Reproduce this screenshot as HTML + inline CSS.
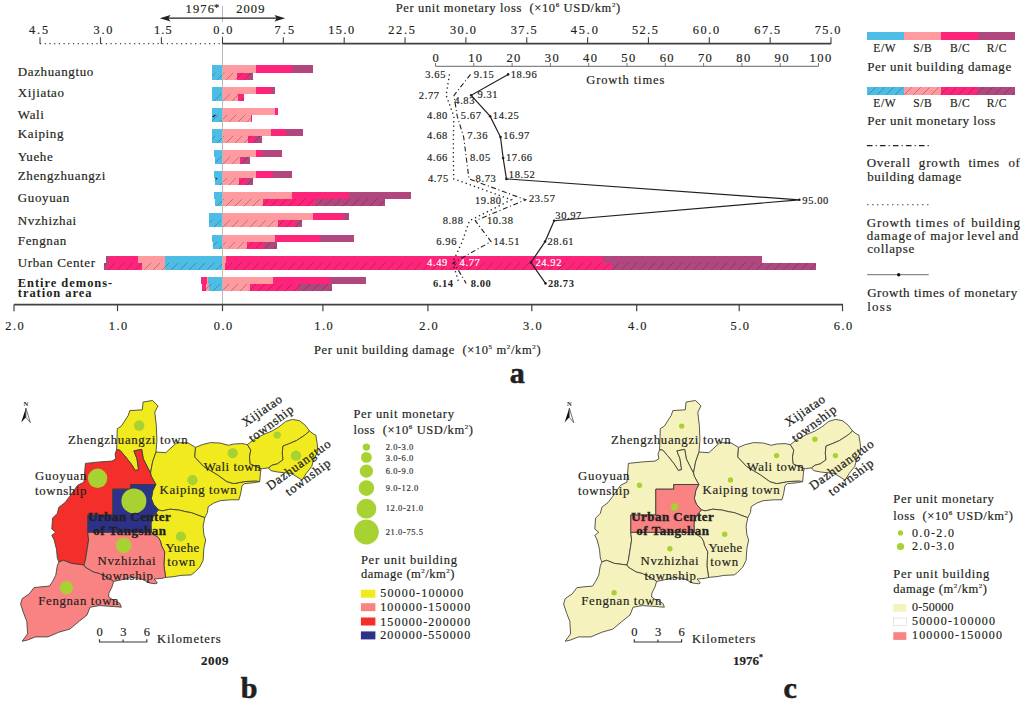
<!DOCTYPE html>
<html><head><meta charset="utf-8"><style>
html,body{margin:0;padding:0;background:#fff;}
svg{display:block;}
text{font-family:"Liberation Serif", serif;}
</style></head><body>
<svg width="1024" height="704" viewBox="0 0 1024 704">
<rect width="1024" height="704" fill="#fff"/>
<g fill="#231f20">
<polygon points="143.10,402.00 152.50,400.50 158.00,405.90 154.80,412.20 156.40,426.30 156.90,440.30 156.00,452.00 152.60,461.90 150.50,473.00 147.90,468.10 143.25,458.75 141.70,449.40 133.90,450.90 137.00,458.75 138.60,469.70 135.40,470.50 130.75,463.40 124.50,455.60 119.80,450.20 116.60,449.70 117.30,428.60 121.25,426.25 128.30,415.30 129.80,410.60 142.30,409.80" fill="#f1ea1e" stroke="#3b3b35" stroke-width="0.85" stroke-linejoin="round"/>
<polygon points="156.00,452.00 165.80,452.70 176.80,442.70 187.70,442.70 195.50,447.40 194.80,457.00 203.70,466.50 217.30,474.70 226.90,481.60 233.75,483.60 244.70,481.60 255.60,480.90 259.70,481.60 252.90,482.90 244.70,483.60 242.00,485.70 240.60,493.90 238.90,499.80 230.40,499.80 220.10,500.70 213.30,503.30 208.20,506.70 207.40,512.60 204.80,517.70 198.00,515.20 191.20,512.60 186.00,511.80 179.20,510.10 169.80,509.20 162.20,510.90 158.40,509.90 153.40,504.20 151.30,498.60 152.80,490.50 155.75,484.50 151.10,475.90 150.50,473.00 152.60,461.90" fill="#f1ea1e" stroke="#3b3b35" stroke-width="0.85" stroke-linejoin="round"/>
<polygon points="195.50,447.40 202.30,444.60 210.50,442.60 220.10,443.00 228.30,445.30 233.75,444.00 242.00,443.60 247.40,444.60 250.80,450.10 249.50,457.00 250.20,463.80 261.10,468.60 260.40,473.40 259.70,481.60 255.60,480.90 244.70,481.60 233.75,483.60 226.90,481.60 217.30,474.70 203.70,466.50 194.80,457.00" fill="#f1ea1e" stroke="#3b3b35" stroke-width="0.85" stroke-linejoin="round"/>
<polygon points="247.40,444.60 254.30,439.20 263.80,434.40 272.00,431.00 278.90,426.90 285.70,421.40 292.50,419.40 299.40,420.70 304.80,424.80 309.60,431.00 304.80,435.10 296.60,440.50 288.40,444.00 283.00,446.00 282.30,452.90 283.00,459.70 277.50,463.80 272.00,465.20 268.60,467.90 262.50,468.60 261.10,468.60 250.20,463.80 249.50,457.00 250.80,450.10" fill="#f1ea1e" stroke="#3b3b35" stroke-width="0.85" stroke-linejoin="round"/>
<polygon points="309.60,431.00 313.00,433.70 315.80,435.10 317.20,443.30 317.80,451.50 313.70,459.70 311.70,466.50 306.20,473.40 302.10,480.20 298.00,477.50 291.20,473.40 277.50,472.00 270.70,470.60 268.60,467.90 272.00,465.20 277.50,463.80 283.00,459.70 282.30,452.90 283.00,446.00 288.40,444.00 296.60,440.50 304.80,435.10" fill="#f1ea1e" stroke="#3b3b35" stroke-width="0.85" stroke-linejoin="round"/>
<polygon points="158.40,509.90 162.20,510.90 169.80,509.20 179.20,510.10 186.00,511.80 191.20,512.60 198.00,515.20 204.80,517.70 203.10,526.30 203.90,534.80 205.65,539.90 203.90,548.40 203.10,560.40 199.70,567.20 194.60,572.30 191.20,574.90 180.90,575.40 174.10,576.60 165.60,577.40 163.90,565.50 164.70,551.90 161.25,545.00 160.50,541.20 158.40,537.60 154.10,534.80 151.30,532.40 151.00,524.80 151.30,519.90 154.10,514.90" fill="#f1ea1e" stroke="#3b3b35" stroke-width="0.85" stroke-linejoin="round"/>
<polygon points="85.40,463.40 99.50,461.90 112.00,461.10 115.90,458.75 115.10,454.10 116.60,449.70 119.80,450.20 124.50,455.60 130.75,463.40 135.40,470.50 138.60,469.70 137.00,458.75 133.90,450.90 141.70,449.40 143.25,458.75 147.90,468.10 150.50,473.00 151.10,475.90 155.75,484.50 130.75,484.50 130.75,489.20 112.80,489.20 112.80,515.00 87.80,515.00 87.80,532.40 88.60,540.00 85.40,560.30 83.90,565.00 71.40,563.40 63.60,560.30 58.90,561.90 57.30,558.00 56.50,549.40 54.20,540.00 51.80,535.30 55.75,532.20 51.80,529.10 52.60,518.10 57.30,513.40 58.90,507.20 65.10,502.50 69.80,496.25 77.60,485.30 83.90,482.20" fill="#f42e2a" stroke="#3b3b35" stroke-width="0.85" stroke-linejoin="round"/>
<polygon points="130.75,484.50 155.75,484.50 152.80,490.50 151.30,498.60 153.40,504.20 158.40,509.90 154.10,514.90 151.30,519.90 151.00,524.80 151.30,532.40 87.80,532.40 87.80,515.00 112.80,515.00 112.80,489.20 130.75,489.20" fill="#2c3189" stroke="#3b3b35" stroke-width="0.85" stroke-linejoin="round"/>
<polygon points="87.80,532.40 151.30,532.40 154.10,534.80 158.40,537.60 160.50,541.20 161.25,545.00 164.70,551.90 163.90,565.50 165.60,577.40 162.00,578.30 154.20,579.00 157.30,583.00 155.75,583.75 149.50,583.00 144.80,580.60 140.10,578.30 130.75,577.50 121.40,579.80 113.60,581.40 108.90,578.30 99.50,573.60 93.25,572.00 85.40,567.30 83.90,565.00 85.40,560.30 88.60,540.00" fill="#f98282" stroke="#3b3b35" stroke-width="0.85" stroke-linejoin="round"/>
<polygon points="63.60,560.30 71.40,563.40 83.90,565.00 85.40,567.30 93.25,572.00 99.50,573.60 108.90,578.30 113.60,581.40 112.00,586.90 108.90,593.10 108.60,597.00 113.60,600.20 119.80,603.30 121.40,607.20 112.00,606.40 99.50,605.60 90.10,607.20 87.00,615.00 79.20,621.25 69.80,629.10 58.90,632.20 47.90,636.90 35.40,636.90 27.60,640.00 22.20,641.25 27.60,633.75 26.80,621.25 23.70,613.40 20.60,604.00 22.20,598.60 29.20,593.90 33.90,587.70 40.10,586.90 49.50,586.10 52.60,581.40 55.75,575.20 57.30,565.80 58.90,561.90" fill="#f98282" stroke="#3b3b35" stroke-width="0.85" stroke-linejoin="round"/>
<circle cx="139.2" cy="425.5" r="5.2" fill="#a7d232"/>
<circle cx="277.2" cy="435.1" r="3.7" fill="#a7d232"/>
<circle cx="296" cy="455.6" r="5.2" fill="#a7d232"/>
<circle cx="232.7" cy="453.1" r="5.2" fill="#a7d232"/>
<circle cx="192.5" cy="480.2" r="5.1" fill="#a7d232"/>
<circle cx="97.6" cy="478.3" r="9.7" fill="#a7d232"/>
<circle cx="133.9" cy="500.9" r="12.5" fill="#a7d232"/>
<circle cx="123.7" cy="545.5" r="7.8" fill="#a7d232"/>
<circle cx="180.9" cy="536.5" r="5.1" fill="#a7d232"/>
<circle cx="66.4" cy="587.7" r="6.6" fill="#a7d232"/>
<polygon points="686.10,402.00 695.50,400.50 701.00,405.90 697.80,412.20 699.40,426.30 699.90,440.30 699.00,452.00 695.60,461.90 693.50,473.00 690.90,468.10 686.25,458.75 684.70,449.40 676.90,450.90 680.00,458.75 681.60,469.70 678.40,470.50 673.75,463.40 667.50,455.60 662.80,450.20 659.60,449.70 660.30,428.60 664.25,426.25 671.30,415.30 672.80,410.60 685.30,409.80" fill="#f6f2bd" stroke="#3b3b35" stroke-width="0.85" stroke-linejoin="round"/>
<polygon points="699.00,452.00 708.80,452.70 719.80,442.70 730.70,442.70 738.50,447.40 737.80,457.00 746.70,466.50 760.30,474.70 769.90,481.60 776.75,483.60 787.70,481.60 798.60,480.90 802.70,481.60 795.90,482.90 787.70,483.60 785.00,485.70 783.60,493.90 781.90,499.80 773.40,499.80 763.10,500.70 756.30,503.30 751.20,506.70 750.40,512.60 747.80,517.70 741.00,515.20 734.20,512.60 729.00,511.80 722.20,510.10 712.80,509.20 705.20,510.90 701.40,509.90 696.40,504.20 694.30,498.60 695.80,490.50 698.75,484.50 694.10,475.90 693.50,473.00 695.60,461.90" fill="#f6f2bd" stroke="#3b3b35" stroke-width="0.85" stroke-linejoin="round"/>
<polygon points="738.50,447.40 745.30,444.60 753.50,442.60 763.10,443.00 771.30,445.30 776.75,444.00 785.00,443.60 790.40,444.60 793.80,450.10 792.50,457.00 793.20,463.80 804.10,468.60 803.40,473.40 802.70,481.60 798.60,480.90 787.70,481.60 776.75,483.60 769.90,481.60 760.30,474.70 746.70,466.50 737.80,457.00" fill="#f6f2bd" stroke="#3b3b35" stroke-width="0.85" stroke-linejoin="round"/>
<polygon points="790.40,444.60 797.30,439.20 806.80,434.40 815.00,431.00 821.90,426.90 828.70,421.40 835.50,419.40 842.40,420.70 847.80,424.80 852.60,431.00 847.80,435.10 839.60,440.50 831.40,444.00 826.00,446.00 825.30,452.90 826.00,459.70 820.50,463.80 815.00,465.20 811.60,467.90 805.50,468.60 804.10,468.60 793.20,463.80 792.50,457.00 793.80,450.10" fill="#f6f2bd" stroke="#3b3b35" stroke-width="0.85" stroke-linejoin="round"/>
<polygon points="852.60,431.00 856.00,433.70 858.80,435.10 860.20,443.30 860.80,451.50 856.70,459.70 854.70,466.50 849.20,473.40 845.10,480.20 841.00,477.50 834.20,473.40 820.50,472.00 813.70,470.60 811.60,467.90 815.00,465.20 820.50,463.80 826.00,459.70 825.30,452.90 826.00,446.00 831.40,444.00 839.60,440.50 847.80,435.10" fill="#f6f2bd" stroke="#3b3b35" stroke-width="0.85" stroke-linejoin="round"/>
<polygon points="701.40,509.90 705.20,510.90 712.80,509.20 722.20,510.10 729.00,511.80 734.20,512.60 741.00,515.20 747.80,517.70 746.10,526.30 746.90,534.80 748.65,539.90 746.90,548.40 746.10,560.40 742.70,567.20 737.60,572.30 734.20,574.90 723.90,575.40 717.10,576.60 708.60,577.40 706.90,565.50 707.70,551.90 704.25,545.00 703.50,541.20 701.40,537.60 697.10,534.80 694.30,532.40 694.00,524.80 694.30,519.90 697.10,514.90" fill="#f6f2bd" stroke="#3b3b35" stroke-width="0.85" stroke-linejoin="round"/>
<polygon points="628.40,463.40 642.50,461.90 655.00,461.10 658.90,458.75 658.10,454.10 659.60,449.70 662.80,450.20 667.50,455.60 673.75,463.40 678.40,470.50 681.60,469.70 680.00,458.75 676.90,450.90 684.70,449.40 686.25,458.75 690.90,468.10 693.50,473.00 694.10,475.90 698.75,484.50 673.75,484.50 673.75,489.20 655.80,489.20 655.80,515.00 630.80,515.00 630.80,532.40 631.60,540.00 628.40,560.30 626.90,565.00 614.40,563.40 606.60,560.30 601.90,561.90 600.30,558.00 599.50,549.40 597.20,540.00 594.80,535.30 598.75,532.20 594.80,529.10 595.60,518.10 600.30,513.40 601.90,507.20 608.10,502.50 612.80,496.25 620.60,485.30 626.90,482.20" fill="#f6f2bd" stroke="#3b3b35" stroke-width="0.85" stroke-linejoin="round"/>
<polygon points="673.75,484.50 698.75,484.50 695.80,490.50 694.30,498.60 696.40,504.20 701.40,509.90 697.10,514.90 694.30,519.90 694.00,524.80 694.30,532.40 630.80,532.40 630.80,515.00 655.80,515.00 655.80,489.20 673.75,489.20" fill="#f98282" stroke="#3b3b35" stroke-width="0.85" stroke-linejoin="round"/>
<polygon points="630.80,532.40 694.30,532.40 697.10,534.80 701.40,537.60 703.50,541.20 704.25,545.00 707.70,551.90 706.90,565.50 708.60,577.40 705.00,578.30 697.20,579.00 700.30,583.00 698.75,583.75 692.50,583.00 687.80,580.60 683.10,578.30 673.75,577.50 664.40,579.80 656.60,581.40 651.90,578.30 642.50,573.60 636.25,572.00 628.40,567.30 626.90,565.00 628.40,560.30 631.60,540.00" fill="#f6f2bd" stroke="#3b3b35" stroke-width="0.85" stroke-linejoin="round"/>
<polygon points="606.60,560.30 614.40,563.40 626.90,565.00 628.40,567.30 636.25,572.00 642.50,573.60 651.90,578.30 656.60,581.40 655.00,586.90 651.90,593.10 651.60,597.00 656.60,600.20 662.80,603.30 664.40,607.20 655.00,606.40 642.50,605.60 633.10,607.20 630.00,615.00 622.20,621.25 612.80,629.10 601.90,632.20 590.90,636.90 578.40,636.90 570.60,640.00 565.20,641.25 570.60,633.75 569.80,621.25 566.70,613.40 563.60,604.00 565.20,598.60 572.20,593.90 576.90,587.70 583.10,586.90 592.50,586.10 595.60,581.40 598.75,575.20 600.30,565.80 601.90,561.90" fill="#f6f2bd" stroke="#3b3b35" stroke-width="0.85" stroke-linejoin="round"/>
<circle cx="681.7" cy="426.1" r="2.7" fill="#a7d232"/>
<circle cx="814.9" cy="439.3" r="2.7" fill="#a7d232"/>
<circle cx="835.4" cy="455.6" r="2.7" fill="#a7d232"/>
<circle cx="776.6" cy="455.6" r="2.7" fill="#a7d232"/>
<circle cx="730.5" cy="479.9" r="2.7" fill="#a7d232"/>
<circle cx="639.5" cy="485.2" r="2.7" fill="#a7d232"/>
<circle cx="674.6" cy="507.0" r="3.7" fill="#a7d232"/>
<circle cx="669.9" cy="548.8" r="2.7" fill="#a7d232"/>
<circle cx="724.7" cy="534.2" r="2.7" fill="#a7d232"/>
<circle cx="614.1" cy="592.8" r="2.7" fill="#a7d232"/>
<path d="M25.90 408.1 L21.20 422.6 L25.90 417.3 Z" fill="#111"/>
<path d="M25.90 408.1 L30.40 422.6 L25.90 417.3 Z" fill="#fff" stroke="#333" stroke-width="0.7" stroke-linejoin="round"/>
<text x="25.90" y="406" font-size="6.5" font-weight="700" text-anchor="middle" fill="#222">N</text>
<path d="M569.30 408.1 L564.60 422.6 L569.30 417.3 Z" fill="#111"/>
<path d="M569.30 408.1 L573.80 422.6 L569.30 417.3 Z" fill="#fff" stroke="#333" stroke-width="0.7" stroke-linejoin="round"/>
<text x="569.30" y="406" font-size="6.5" font-weight="700" text-anchor="middle" fill="#222">N</text>
<line x1="222.5" y1="6" x2="222.5" y2="22" stroke="#b8b8b8" stroke-width="1"/>
<line x1="222.5" y1="36" x2="222.5" y2="311" stroke="#b8b8b8" stroke-width="1"/>
<line x1="222.5" y1="43.6" x2="831" y2="43.6" stroke="#454040" stroke-width="1.7"/>
<line x1="222.50" y1="37.2" x2="222.50" y2="44" stroke="#454040" stroke-width="1.1"/>
<line x1="283.35" y1="37.2" x2="283.35" y2="44" stroke="#454040" stroke-width="1.1"/>
<line x1="344.20" y1="37.2" x2="344.20" y2="44" stroke="#454040" stroke-width="1.1"/>
<line x1="405.05" y1="37.2" x2="405.05" y2="44" stroke="#454040" stroke-width="1.1"/>
<line x1="465.90" y1="37.2" x2="465.90" y2="44" stroke="#454040" stroke-width="1.1"/>
<line x1="526.75" y1="37.2" x2="526.75" y2="44" stroke="#454040" stroke-width="1.1"/>
<line x1="587.60" y1="37.2" x2="587.60" y2="44" stroke="#454040" stroke-width="1.1"/>
<line x1="648.45" y1="37.2" x2="648.45" y2="44" stroke="#454040" stroke-width="1.1"/>
<line x1="709.30" y1="37.2" x2="709.30" y2="44" stroke="#454040" stroke-width="1.1"/>
<line x1="770.15" y1="37.2" x2="770.15" y2="44" stroke="#454040" stroke-width="1.1"/>
<line x1="831.00" y1="37.2" x2="831.00" y2="44" stroke="#454040" stroke-width="1.1"/>
<line x1="40" y1="43.6" x2="221" y2="43.6" stroke="#454040" stroke-width="1.2" stroke-dasharray="1.2 3.5"/>
<line x1="40.00" y1="37.2" x2="40.00" y2="44" stroke="#454040" stroke-width="1.1"/>
<line x1="100.50" y1="37.2" x2="100.50" y2="44" stroke="#454040" stroke-width="1.1"/>
<line x1="161.40" y1="37.2" x2="161.40" y2="44" stroke="#454040" stroke-width="1.1"/>
<text x="29.10" y="33.80" font-size="12.3" textLength="19.10" lengthAdjust="spacing" stroke="#231f20" stroke-width="0.18">4.5</text>
<text x="93.60" y="33.80" font-size="12.3" textLength="18.70" lengthAdjust="spacing" stroke="#231f20" stroke-width="0.18">3.0</text>
<text x="154.10" y="33.80" font-size="12.3" textLength="17.55" lengthAdjust="spacing" stroke="#231f20" stroke-width="0.18">1.5</text>
<text x="213.15" y="33.80" font-size="12.3" textLength="19.25" lengthAdjust="spacing" stroke="#231f20" stroke-width="0.18">0.0</text>
<text x="274.40" y="33.80" font-size="12.3" textLength="19.75" lengthAdjust="spacing" stroke="#231f20" stroke-width="0.18">7.5</text>
<text x="328.15" y="33.80" font-size="12.3" textLength="26.00" lengthAdjust="spacing" stroke="#231f20" stroke-width="0.18">15.0</text>
<text x="388.15" y="33.80" font-size="12.3" textLength="26.75" lengthAdjust="spacing" stroke="#231f20" stroke-width="0.18">22.5</text>
<text x="449.90" y="33.80" font-size="12.3" textLength="26.00" lengthAdjust="spacing" stroke="#231f20" stroke-width="0.18">30.0</text>
<text x="510.65" y="33.80" font-size="12.3" textLength="26.00" lengthAdjust="spacing" stroke="#231f20" stroke-width="0.18">37.5</text>
<text x="570.65" y="33.80" font-size="12.3" textLength="27.25" lengthAdjust="spacing" stroke="#231f20" stroke-width="0.18">45.0</text>
<text x="631.90" y="33.80" font-size="12.3" textLength="26.00" lengthAdjust="spacing" stroke="#231f20" stroke-width="0.18">52.5</text>
<text x="692.80" y="33.80" font-size="12.3" textLength="26.40" lengthAdjust="spacing" stroke="#231f20" stroke-width="0.18">60.0</text>
<text x="754.30" y="33.80" font-size="12.3" textLength="25.90" lengthAdjust="spacing" stroke="#231f20" stroke-width="0.18">67.5</text>
<text x="814.70" y="33.80" font-size="12.3" textLength="25.70" lengthAdjust="spacing" stroke="#231f20" stroke-width="0.18">75.0</text>
<line x1="166" y1="18.2" x2="279" y2="18.2" stroke="#231f20" stroke-width="1.3"/>
<path d="M159.8 18.2 L170.5 14.9 L168.3 18.2 L170.5 21.5 Z" fill="#231f20"/>
<path d="M285.2 18.2 L274.5 14.9 L276.7 18.2 L274.5 21.5 Z" fill="#231f20"/>
<text x="185.60" y="13.30" font-size="12.5" textLength="28.30" lengthAdjust="spacing" stroke="#231f20" stroke-width="0.18">1976</text>
<text x="214.00" y="11.00" font-size="10.5" stroke="#231f20" stroke-width="0.18">*</text>
<text x="236.20" y="13.30" font-size="12.5" textLength="28.20" lengthAdjust="spacing" stroke="#231f20" stroke-width="0.18">2009</text>
<text x="395.70" y="11.60" font-size="12.5" letter-spacing="0.64" stroke="#231f20" stroke-width="0.18">Per unit monetary loss&#160; (×10<tspan font-size="7" dy="-5">6</tspan><tspan dy="5"> USD/km</tspan><tspan font-size="7" dy="-5">2</tspan><tspan dy="5">)</tspan></text>
<line x1="435.5" y1="66.3" x2="818.5" y2="66.3" stroke="#6a6666" stroke-width="1"/>
<line x1="435.50" y1="63" x2="435.50" y2="66.3" stroke="#6a6666" stroke-width="0.9"/>
<text x="436.30" y="62.30" font-size="12.5" text-anchor="middle" letter-spacing="1.4" stroke="#231f20" stroke-width="0.18">0</text>
<line x1="473.80" y1="63" x2="473.80" y2="66.3" stroke="#6a6666" stroke-width="0.9"/>
<text x="475.80" y="62.30" font-size="12.5" text-anchor="middle" letter-spacing="1.4" stroke="#231f20" stroke-width="0.18">10</text>
<line x1="512.10" y1="63" x2="512.10" y2="66.3" stroke="#6a6666" stroke-width="0.9"/>
<text x="514.10" y="62.30" font-size="12.5" text-anchor="middle" letter-spacing="1.4" stroke="#231f20" stroke-width="0.18">20</text>
<line x1="550.40" y1="63" x2="550.40" y2="66.3" stroke="#6a6666" stroke-width="0.9"/>
<text x="552.40" y="62.30" font-size="12.5" text-anchor="middle" letter-spacing="1.4" stroke="#231f20" stroke-width="0.18">30</text>
<line x1="588.70" y1="63" x2="588.70" y2="66.3" stroke="#6a6666" stroke-width="0.9"/>
<text x="590.70" y="62.30" font-size="12.5" text-anchor="middle" letter-spacing="1.4" stroke="#231f20" stroke-width="0.18">40</text>
<line x1="627.00" y1="63" x2="627.00" y2="66.3" stroke="#6a6666" stroke-width="0.9"/>
<text x="629.00" y="62.30" font-size="12.5" text-anchor="middle" letter-spacing="1.4" stroke="#231f20" stroke-width="0.18">50</text>
<line x1="665.30" y1="63" x2="665.30" y2="66.3" stroke="#6a6666" stroke-width="0.9"/>
<text x="667.30" y="62.30" font-size="12.5" text-anchor="middle" letter-spacing="1.4" stroke="#231f20" stroke-width="0.18">60</text>
<line x1="703.60" y1="63" x2="703.60" y2="66.3" stroke="#6a6666" stroke-width="0.9"/>
<text x="705.60" y="62.30" font-size="12.5" text-anchor="middle" letter-spacing="1.4" stroke="#231f20" stroke-width="0.18">70</text>
<line x1="741.90" y1="63" x2="741.90" y2="66.3" stroke="#6a6666" stroke-width="0.9"/>
<text x="743.90" y="62.30" font-size="12.5" text-anchor="middle" letter-spacing="1.4" stroke="#231f20" stroke-width="0.18">80</text>
<line x1="780.20" y1="63" x2="780.20" y2="66.3" stroke="#6a6666" stroke-width="0.9"/>
<text x="782.20" y="62.30" font-size="12.5" text-anchor="middle" letter-spacing="1.4" stroke="#231f20" stroke-width="0.18">90</text>
<line x1="818.50" y1="63" x2="818.50" y2="66.3" stroke="#6a6666" stroke-width="0.9"/>
<text x="821.10" y="62.30" font-size="12.5" text-anchor="middle" letter-spacing="1.4" stroke="#231f20" stroke-width="0.18">100</text>
<text x="586.30" y="83.80" font-size="12.5" textLength="78.00" lengthAdjust="spacing" stroke="#231f20" stroke-width="0.18">Growth times</text>
<text x="17.80" y="75.80" font-size="13" letter-spacing="0.62" stroke="#231f20" stroke-width="0.18">Dazhuangtuo</text>
<text x="17.80" y="96.90" font-size="13" letter-spacing="0.62" stroke="#231f20" stroke-width="0.18">Xijiatao</text>
<text x="17.80" y="118.70" font-size="13" letter-spacing="0.62" stroke="#231f20" stroke-width="0.18">Wali</text>
<text x="17.80" y="138.30" font-size="13" letter-spacing="0.62" stroke="#231f20" stroke-width="0.18">Kaiping</text>
<text x="17.80" y="160.60" font-size="13" letter-spacing="0.62" stroke="#231f20" stroke-width="0.18">Yuehe</text>
<text x="17.80" y="180.00" font-size="13" letter-spacing="0.62" stroke="#231f20" stroke-width="0.18">Zhengzhuangzi</text>
<text x="17.80" y="202.10" font-size="13" letter-spacing="0.62" stroke="#231f20" stroke-width="0.18">Guoyuan</text>
<text x="17.80" y="225.40" font-size="13" letter-spacing="0.62" stroke="#231f20" stroke-width="0.18">Nvzhizhai</text>
<text x="17.80" y="244.70" font-size="13" letter-spacing="0.62" stroke="#231f20" stroke-width="0.18">Fengnan</text>
<text x="17.80" y="267.10" font-size="13" letter-spacing="0.62" stroke="#231f20" stroke-width="0.18">Urban Center</text>
<text x="17.80" y="286.80" font-size="12.5" font-weight="700" letter-spacing="0.95">Entire demons-</text>
<text x="17.80" y="296.60" font-size="12.5" font-weight="700" letter-spacing="0.95">tration area</text>
<defs>
<pattern id="h" patternUnits="userSpaceOnUse" width="9" height="9" patternTransform="translate(0,0)">
<path d="M-1 10 L10 -1" stroke="#231f20" stroke-opacity="0.5" stroke-width="0.6"/>
<path d="M-1 1 L1 -1 M8 10 L10 8" stroke="#231f20" stroke-opacity="0.5" stroke-width="0.6"/>
</pattern>
</defs>
<rect x="212.00" y="65.40" width="10.40" height="7.30" fill="#4dbde6" shape-rendering="crispEdges"/>
<rect x="212.00" y="72.70" width="10.40" height="7.10" fill="#4dbde6" shape-rendering="crispEdges"/>
<rect x="212.00" y="72.70" width="10.40" height="7.10" fill="url(#h)"/>
<rect x="222.40" y="65.40" width="33.80" height="7.30" fill="#fe9aa0" shape-rendering="crispEdges"/>
<rect x="256.20" y="65.40" width="36.10" height="7.30" fill="#fe2479" shape-rendering="crispEdges"/>
<rect x="292.30" y="65.40" width="20.80" height="7.30" fill="#b0477f" shape-rendering="crispEdges"/>
<rect x="222.40" y="72.70" width="14.90" height="7.10" fill="#fe9aa0" shape-rendering="crispEdges"/>
<rect x="237.30" y="72.70" width="11.00" height="7.10" fill="#fe2479" shape-rendering="crispEdges"/>
<rect x="248.30" y="72.70" width="5.10" height="7.10" fill="#b0477f" shape-rendering="crispEdges"/>
<rect x="222.40" y="72.70" width="31.00" height="7.10" fill="url(#h)"/>
<rect x="212.00" y="86.60" width="10.40" height="7.00" fill="#4dbde6" shape-rendering="crispEdges"/>
<rect x="212.00" y="93.60" width="10.40" height="7.30" fill="#4dbde6" shape-rendering="crispEdges"/>
<rect x="212.00" y="93.60" width="10.40" height="7.30" fill="url(#h)"/>
<rect x="222.40" y="86.60" width="33.80" height="7.00" fill="#fe9aa0" shape-rendering="crispEdges"/>
<rect x="256.20" y="86.60" width="14.70" height="7.00" fill="#fe2479" shape-rendering="crispEdges"/>
<rect x="270.90" y="86.60" width="4.30" height="7.00" fill="#b0477f" shape-rendering="crispEdges"/>
<rect x="222.40" y="93.60" width="15.70" height="7.30" fill="#fe9aa0" shape-rendering="crispEdges"/>
<rect x="238.10" y="93.60" width="5.40" height="7.30" fill="#fe2479" shape-rendering="crispEdges"/>
<rect x="243.50" y="93.60" width="0.90" height="7.30" fill="#b0477f" shape-rendering="crispEdges"/>
<rect x="222.40" y="93.60" width="22.00" height="7.30" fill="url(#h)"/>
<rect x="212.00" y="107.70" width="10.40" height="7.00" fill="#4dbde6" shape-rendering="crispEdges"/>
<rect x="212.00" y="114.70" width="10.40" height="7.30" fill="#4dbde6" shape-rendering="crispEdges"/>
<rect x="212.00" y="114.70" width="10.40" height="7.30" fill="url(#h)"/>
<rect x="222.40" y="107.70" width="53.00" height="7.00" fill="#fe9aa0" shape-rendering="crispEdges"/>
<rect x="275.40" y="107.70" width="2.20" height="7.00" fill="#fe2479" shape-rendering="crispEdges"/>
<rect x="222.40" y="114.70" width="28.50" height="7.30" fill="#fe9aa0" shape-rendering="crispEdges"/>
<rect x="250.90" y="114.70" width="1.30" height="7.30" fill="#fe2479" shape-rendering="crispEdges"/>
<rect x="222.40" y="114.70" width="29.80" height="7.30" fill="url(#h)"/>
<rect x="212.00" y="129.00" width="10.40" height="6.70" fill="#4dbde6" shape-rendering="crispEdges"/>
<rect x="212.00" y="135.70" width="10.40" height="7.10" fill="#4dbde6" shape-rendering="crispEdges"/>
<rect x="212.00" y="135.70" width="10.40" height="7.10" fill="url(#h)"/>
<rect x="222.40" y="129.00" width="48.70" height="6.70" fill="#fe9aa0" shape-rendering="crispEdges"/>
<rect x="271.10" y="129.00" width="14.80" height="6.70" fill="#fe2479" shape-rendering="crispEdges"/>
<rect x="285.90" y="129.00" width="17.00" height="6.70" fill="#b0477f" shape-rendering="crispEdges"/>
<rect x="222.40" y="135.70" width="25.70" height="7.10" fill="#fe9aa0" shape-rendering="crispEdges"/>
<rect x="248.10" y="135.70" width="7.10" height="7.10" fill="#fe2479" shape-rendering="crispEdges"/>
<rect x="255.20" y="135.70" width="7.10" height="7.10" fill="#b0477f" shape-rendering="crispEdges"/>
<rect x="222.40" y="135.70" width="39.90" height="7.10" fill="url(#h)"/>
<rect x="214.30" y="150.10" width="8.10" height="6.70" fill="#4dbde6" shape-rendering="crispEdges"/>
<rect x="215.30" y="156.80" width="7.10" height="7.40" fill="#4dbde6" shape-rendering="crispEdges"/>
<rect x="215.30" y="156.80" width="7.10" height="7.40" fill="url(#h)"/>
<rect x="222.40" y="150.10" width="33.80" height="6.70" fill="#fe9aa0" shape-rendering="crispEdges"/>
<rect x="256.20" y="150.10" width="6.20" height="6.70" fill="#fe2479" shape-rendering="crispEdges"/>
<rect x="262.40" y="150.10" width="19.20" height="6.70" fill="#b0477f" shape-rendering="crispEdges"/>
<rect x="222.40" y="156.80" width="17.50" height="7.40" fill="#fe9aa0" shape-rendering="crispEdges"/>
<rect x="239.90" y="156.80" width="2.30" height="7.40" fill="#fe2479" shape-rendering="crispEdges"/>
<rect x="242.20" y="156.80" width="7.70" height="7.40" fill="#b0477f" shape-rendering="crispEdges"/>
<rect x="222.40" y="156.80" width="27.50" height="7.40" fill="url(#h)"/>
<rect x="214.30" y="171.20" width="8.10" height="6.80" fill="#4dbde6" shape-rendering="crispEdges"/>
<rect x="215.30" y="178.00" width="7.10" height="7.00" fill="#4dbde6" shape-rendering="crispEdges"/>
<rect x="215.30" y="178.00" width="7.10" height="7.00" fill="url(#h)"/>
<rect x="222.40" y="171.20" width="33.80" height="6.80" fill="#fe9aa0" shape-rendering="crispEdges"/>
<rect x="256.20" y="171.20" width="16.90" height="6.80" fill="#fe2479" shape-rendering="crispEdges"/>
<rect x="273.10" y="171.20" width="18.60" height="6.80" fill="#b0477f" shape-rendering="crispEdges"/>
<rect x="222.40" y="178.00" width="16.30" height="7.00" fill="#fe9aa0" shape-rendering="crispEdges"/>
<rect x="238.70" y="178.00" width="8.20" height="7.00" fill="#fe2479" shape-rendering="crispEdges"/>
<rect x="246.90" y="178.00" width="6.50" height="7.00" fill="#b0477f" shape-rendering="crispEdges"/>
<rect x="222.40" y="178.00" width="31.00" height="7.00" fill="url(#h)"/>
<rect x="214.30" y="192.30" width="8.10" height="6.60" fill="#4dbde6" shape-rendering="crispEdges"/>
<rect x="215.30" y="198.90" width="7.10" height="7.50" fill="#4dbde6" shape-rendering="crispEdges"/>
<rect x="215.30" y="198.90" width="7.10" height="7.50" fill="url(#h)"/>
<rect x="222.40" y="192.30" width="69.50" height="6.60" fill="#fe9aa0" shape-rendering="crispEdges"/>
<rect x="291.90" y="192.30" width="56.70" height="6.60" fill="#fe2479" shape-rendering="crispEdges"/>
<rect x="348.60" y="192.30" width="62.80" height="6.60" fill="#b0477f" shape-rendering="crispEdges"/>
<rect x="222.40" y="198.90" width="41.00" height="7.50" fill="#fe9aa0" shape-rendering="crispEdges"/>
<rect x="263.40" y="198.90" width="51.90" height="7.50" fill="#fe2479" shape-rendering="crispEdges"/>
<rect x="315.30" y="198.90" width="69.40" height="7.50" fill="#b0477f" shape-rendering="crispEdges"/>
<rect x="222.40" y="198.90" width="162.30" height="7.50" fill="url(#h)"/>
<rect x="209.20" y="213.40" width="13.20" height="6.80" fill="#4dbde6" shape-rendering="crispEdges"/>
<rect x="209.20" y="220.20" width="13.20" height="7.00" fill="#4dbde6" shape-rendering="crispEdges"/>
<rect x="209.20" y="220.20" width="13.20" height="7.00" fill="url(#h)"/>
<rect x="222.40" y="213.40" width="90.20" height="6.80" fill="#fe9aa0" shape-rendering="crispEdges"/>
<rect x="312.60" y="213.40" width="29.90" height="6.80" fill="#fe2479" shape-rendering="crispEdges"/>
<rect x="342.50" y="213.40" width="6.10" height="6.80" fill="#b0477f" shape-rendering="crispEdges"/>
<rect x="222.40" y="220.20" width="55.60" height="7.00" fill="#fe9aa0" shape-rendering="crispEdges"/>
<rect x="278.00" y="220.20" width="18.00" height="7.00" fill="#fe2479" shape-rendering="crispEdges"/>
<rect x="296.00" y="220.20" width="6.30" height="7.00" fill="#b0477f" shape-rendering="crispEdges"/>
<rect x="222.40" y="220.20" width="79.90" height="7.00" fill="url(#h)"/>
<rect x="212.00" y="235.00" width="10.40" height="6.90" fill="#4dbde6" shape-rendering="crispEdges"/>
<rect x="212.50" y="241.90" width="9.90" height="6.80" fill="#4dbde6" shape-rendering="crispEdges"/>
<rect x="212.50" y="241.90" width="9.90" height="6.80" fill="url(#h)"/>
<rect x="222.40" y="235.00" width="52.90" height="6.90" fill="#fe9aa0" shape-rendering="crispEdges"/>
<rect x="275.30" y="235.00" width="44.80" height="6.90" fill="#fe2479" shape-rendering="crispEdges"/>
<rect x="320.10" y="235.00" width="33.40" height="6.90" fill="#b0477f" shape-rendering="crispEdges"/>
<rect x="222.40" y="241.90" width="24.40" height="6.80" fill="#fe9aa0" shape-rendering="crispEdges"/>
<rect x="246.80" y="241.90" width="17.00" height="6.80" fill="#fe2479" shape-rendering="crispEdges"/>
<rect x="263.80" y="241.90" width="13.00" height="6.80" fill="#b0477f" shape-rendering="crispEdges"/>
<rect x="222.40" y="241.90" width="54.40" height="6.80" fill="url(#h)"/>
<rect x="165.40" y="255.90" width="57.00" height="6.90" fill="#4dbde6" shape-rendering="crispEdges"/>
<rect x="138.10" y="255.90" width="27.30" height="6.90" fill="#fe9aa0" shape-rendering="crispEdges"/>
<rect x="108.70" y="255.90" width="29.40" height="6.90" fill="#fe2479" shape-rendering="crispEdges"/>
<rect x="106.20" y="255.90" width="2.50" height="6.90" fill="#b0477f" shape-rendering="crispEdges"/>
<rect x="164.50" y="262.80" width="57.90" height="7.10" fill="#4dbde6" shape-rendering="crispEdges"/>
<rect x="142.20" y="262.80" width="22.30" height="7.10" fill="#fe9aa0" shape-rendering="crispEdges"/>
<rect x="106.60" y="262.80" width="35.60" height="7.10" fill="#fe2479" shape-rendering="crispEdges"/>
<rect x="103.90" y="262.80" width="2.70" height="7.10" fill="#b0477f" shape-rendering="crispEdges"/>
<rect x="103.90" y="262.80" width="118.50" height="7.10" fill="url(#h)"/>
<rect x="222.40" y="255.90" width="3.80" height="6.90" fill="#fe9aa0" shape-rendering="crispEdges"/>
<rect x="226.20" y="255.90" width="376.80" height="6.90" fill="#fe2479" shape-rendering="crispEdges"/>
<rect x="603.00" y="255.90" width="158.70" height="6.90" fill="#b0477f" shape-rendering="crispEdges"/>
<rect x="222.40" y="262.80" width="2.80" height="7.10" fill="#fe9aa0" shape-rendering="crispEdges"/>
<rect x="225.20" y="262.80" width="387.00" height="7.10" fill="#fe2479" shape-rendering="crispEdges"/>
<rect x="612.20" y="262.80" width="203.50" height="7.10" fill="#b0477f" shape-rendering="crispEdges"/>
<rect x="222.40" y="262.80" width="593.30" height="7.10" fill="url(#h)"/>
<rect x="207.60" y="277.20" width="14.80" height="6.80" fill="#4dbde6" shape-rendering="crispEdges"/>
<rect x="206.70" y="277.20" width="0.90" height="6.80" fill="#fe9aa0" shape-rendering="crispEdges"/>
<rect x="202.30" y="277.20" width="4.40" height="6.80" fill="#fe2479" shape-rendering="crispEdges"/>
<rect x="201.40" y="277.20" width="0.90" height="6.80" fill="#b0477f" shape-rendering="crispEdges"/>
<rect x="209.00" y="284.00" width="13.40" height="7.10" fill="#4dbde6" shape-rendering="crispEdges"/>
<rect x="205.80" y="284.00" width="3.20" height="7.10" fill="#fe9aa0" shape-rendering="crispEdges"/>
<rect x="202.30" y="284.00" width="3.50" height="7.10" fill="#fe2479" shape-rendering="crispEdges"/>
<rect x="202.30" y="284.00" width="20.10" height="7.10" fill="url(#h)"/>
<rect x="222.40" y="277.20" width="50.60" height="6.80" fill="#fe9aa0" shape-rendering="crispEdges"/>
<rect x="273.00" y="277.20" width="56.70" height="6.80" fill="#fe2479" shape-rendering="crispEdges"/>
<rect x="329.70" y="277.20" width="36.10" height="6.80" fill="#b0477f" shape-rendering="crispEdges"/>
<rect x="222.40" y="284.00" width="27.40" height="7.10" fill="#fe9aa0" shape-rendering="crispEdges"/>
<rect x="249.80" y="284.00" width="47.80" height="7.10" fill="#fe2479" shape-rendering="crispEdges"/>
<rect x="297.60" y="284.00" width="33.90" height="7.10" fill="#b0477f" shape-rendering="crispEdges"/>
<rect x="222.40" y="284.00" width="109.10" height="7.10" fill="url(#h)"/>
<path d="M212.6 117 L215.4 115" stroke="#111" stroke-width="1.1"/>
<circle cx="216.1" cy="178.5" r="0.75" fill="#111"/>
<line x1="222.5" y1="60" x2="222.5" y2="304" stroke="#b8b8b8" stroke-width="1"/>
<polyline points="449.48,74.40 446.11,95.30 453.88,116.20 453.42,137.10 453.35,158.00 453.69,178.90 511.33,199.80 469.51,220.70 462.16,241.60 452.70,262.50 459.02,283.40" fill="none" stroke="#231f20" stroke-width="1.35" stroke-dasharray="1.3 3.1"/>
<polyline points="470.54,74.40 454.00,95.30 457.22,116.20 463.69,137.10 466.33,158.00 468.94,178.90 525.77,199.80 475.26,220.70 491.07,241.60 453.77,262.50 466.14,283.40" fill="none" stroke="#231f20" stroke-width="1.1" stroke-dasharray="5 2.6 1.1 2.6"/>
<polyline points="508.12,74.40 471.16,95.30 490.08,116.20 500.50,137.10 503.14,158.00 506.43,178.90 799.35,199.80 554.12,220.70 545.08,241.60 530.94,262.50 545.54,283.40" fill="none" stroke="#231f20" stroke-width="1.2"/>
<circle cx="508.12" cy="74.40" r="1.3" fill="#231f20"/>
<circle cx="471.16" cy="95.30" r="1.3" fill="#231f20"/>
<circle cx="490.08" cy="116.20" r="1.3" fill="#231f20"/>
<circle cx="500.50" cy="137.10" r="1.3" fill="#231f20"/>
<circle cx="503.14" cy="158.00" r="1.3" fill="#231f20"/>
<circle cx="506.43" cy="178.90" r="1.3" fill="#231f20"/>
<circle cx="799.35" cy="199.80" r="1.3" fill="#231f20"/>
<circle cx="554.12" cy="220.70" r="1.3" fill="#231f20"/>
<circle cx="545.08" cy="241.60" r="1.3" fill="#231f20"/>
<circle cx="530.94" cy="262.50" r="1.3" fill="#231f20"/>
<circle cx="545.54" cy="283.40" r="1.3" fill="#231f20"/>
<text x="446.00" y="77.70" font-size="10.5" text-anchor="end" letter-spacing="0.6" stroke="#231f20" stroke-width="0.18">3.65</text>
<text x="473.70" y="77.70" font-size="10.5" letter-spacing="0.6" stroke="#231f20" stroke-width="0.18">9.15</text>
<text x="510.70" y="77.70" font-size="10.5" letter-spacing="0.6" stroke="#231f20" stroke-width="0.18">18.96</text>
<text x="439.60" y="99.00" font-size="10.5" text-anchor="end" letter-spacing="0.6" stroke="#231f20" stroke-width="0.18">2.77</text>
<text x="454.30" y="103.60" font-size="10.5" letter-spacing="0.6" stroke="#231f20" stroke-width="0.18">4.83</text>
<text x="477.40" y="98.00" font-size="10.5" letter-spacing="0.6" stroke="#231f20" stroke-width="0.18">9.31</text>
<text x="447.90" y="118.90" font-size="10.5" text-anchor="end" letter-spacing="0.6" stroke="#231f20" stroke-width="0.18">4.80</text>
<text x="460.80" y="118.90" font-size="10.5" letter-spacing="0.6" stroke="#231f20" stroke-width="0.18">5.67</text>
<text x="492.80" y="118.90" font-size="10.5" letter-spacing="0.6" stroke="#231f20" stroke-width="0.18">14.25</text>
<text x="447.90" y="139.20" font-size="10.5" text-anchor="end" letter-spacing="0.6" stroke="#231f20" stroke-width="0.18">4.68</text>
<text x="467.30" y="139.20" font-size="10.5" letter-spacing="0.6" stroke="#231f20" stroke-width="0.18">7.36</text>
<text x="503.30" y="139.20" font-size="10.5" letter-spacing="0.6" stroke="#231f20" stroke-width="0.18">16.97</text>
<text x="447.90" y="160.50" font-size="10.5" text-anchor="end" letter-spacing="0.6" stroke="#231f20" stroke-width="0.18">4.66</text>
<text x="470.00" y="160.50" font-size="10.5" letter-spacing="0.6" stroke="#231f20" stroke-width="0.18">8.05</text>
<text x="506.00" y="160.50" font-size="10.5" letter-spacing="0.6" stroke="#231f20" stroke-width="0.18">17.66</text>
<text x="448.80" y="182.10" font-size="10.5" text-anchor="end" letter-spacing="0.6" stroke="#231f20" stroke-width="0.18">4.75</text>
<text x="475.60" y="182.10" font-size="10.5" letter-spacing="0.6" stroke="#231f20" stroke-width="0.18">8.73</text>
<text x="508.80" y="178.40" font-size="10.5" letter-spacing="0.6" stroke="#231f20" stroke-width="0.18">18.52</text>
<text x="501.60" y="204.20" font-size="10.5" text-anchor="end" letter-spacing="0.6" stroke="#231f20" stroke-width="0.18">19.80</text>
<text x="528.90" y="202.20" font-size="10.5" letter-spacing="0.6" stroke="#231f20" stroke-width="0.18">23.57</text>
<text x="802.30" y="203.60" font-size="10.5" letter-spacing="0.6" stroke="#231f20" stroke-width="0.18">95.00</text>
<text x="463.50" y="223.70" font-size="10.5" text-anchor="end" letter-spacing="0.6" stroke="#231f20" stroke-width="0.18">8.88</text>
<text x="486.90" y="223.70" font-size="10.5" letter-spacing="0.6" stroke="#231f20" stroke-width="0.18">10.38</text>
<text x="555.30" y="218.80" font-size="10.5" letter-spacing="0.6" stroke="#231f20" stroke-width="0.18">30.97</text>
<text x="457.00" y="245.20" font-size="10.5" text-anchor="end" letter-spacing="0.6" stroke="#231f20" stroke-width="0.18">6.96</text>
<text x="493.40" y="245.20" font-size="10.5" letter-spacing="0.6" stroke="#231f20" stroke-width="0.18">14.51</text>
<text x="547.50" y="245.20" font-size="10.5" letter-spacing="0.6" stroke="#231f20" stroke-width="0.18">28.61</text>
<text x="447.90" y="266.10" font-size="10.5" text-anchor="end" fill="#ffffff" letter-spacing="0.6" stroke="#ffffff" stroke-width="0.18">4.49</text>
<text x="459.60" y="266.10" font-size="10.5" fill="#ffffff" letter-spacing="0.6" stroke="#ffffff" stroke-width="0.18">4.77</text>
<text x="535.40" y="266.10" font-size="10.5" fill="#ffffff" letter-spacing="0.6" stroke="#ffffff" stroke-width="0.18">24.92</text>
<text x="453.70" y="287.20" font-size="10.5" text-anchor="end" font-weight="700" letter-spacing="0.6">6.14</text>
<text x="470.70" y="287.20" font-size="10.5" font-weight="700" letter-spacing="0.6">8.00</text>
<text x="547.90" y="287.20" font-size="10.5" font-weight="700" letter-spacing="0.6">28.73</text>
<line x1="14" y1="304.6" x2="843" y2="304.6" stroke="#454040" stroke-width="1.7"/>
<line x1="14.00" y1="304.6" x2="14.00" y2="311.2" stroke="#454040" stroke-width="1.2"/>
<text x="15.30" y="329.90" font-size="12.4" text-anchor="middle" letter-spacing="1.5" stroke="#231f20" stroke-width="0.18">2.0</text>
<line x1="117.50" y1="304.6" x2="117.50" y2="311.2" stroke="#454040" stroke-width="1.2"/>
<text x="118.80" y="329.90" font-size="12.4" text-anchor="middle" letter-spacing="1.5" stroke="#231f20" stroke-width="0.18">1.0</text>
<line x1="222.50" y1="304.6" x2="222.50" y2="311.2" stroke="#454040" stroke-width="1.2"/>
<text x="223.80" y="329.90" font-size="12.4" text-anchor="middle" letter-spacing="1.5" stroke="#231f20" stroke-width="0.18">0.0</text>
<line x1="322.90" y1="304.6" x2="322.90" y2="311.2" stroke="#454040" stroke-width="1.2"/>
<text x="324.20" y="329.90" font-size="12.4" text-anchor="middle" letter-spacing="1.5" stroke="#231f20" stroke-width="0.18">1.0</text>
<line x1="427.90" y1="304.6" x2="427.90" y2="311.2" stroke="#454040" stroke-width="1.2"/>
<text x="429.20" y="329.90" font-size="12.4" text-anchor="middle" letter-spacing="1.5" stroke="#231f20" stroke-width="0.18">2.0</text>
<line x1="531.80" y1="304.6" x2="531.80" y2="311.2" stroke="#454040" stroke-width="1.2"/>
<text x="533.10" y="329.90" font-size="12.4" text-anchor="middle" letter-spacing="1.5" stroke="#231f20" stroke-width="0.18">3.0</text>
<line x1="636.70" y1="304.6" x2="636.70" y2="311.2" stroke="#454040" stroke-width="1.2"/>
<text x="638.00" y="329.90" font-size="12.4" text-anchor="middle" letter-spacing="1.5" stroke="#231f20" stroke-width="0.18">4.0</text>
<line x1="739.20" y1="304.6" x2="739.20" y2="311.2" stroke="#454040" stroke-width="1.2"/>
<text x="740.50" y="329.90" font-size="12.4" text-anchor="middle" letter-spacing="1.5" stroke="#231f20" stroke-width="0.18">5.0</text>
<line x1="842.50" y1="304.6" x2="842.50" y2="311.2" stroke="#454040" stroke-width="1.2"/>
<text x="843.80" y="329.90" font-size="12.4" text-anchor="middle" letter-spacing="1.5" stroke="#231f20" stroke-width="0.18">6.0</text>
<text x="314.00" y="354.10" font-size="12.5" letter-spacing="0.62" stroke="#231f20" stroke-width="0.18">Per unit building damage&#160; (×10<tspan font-size="7" dy="-5">5</tspan><tspan dy="5"> m</tspan><tspan font-size="7" dy="-5">2</tspan><tspan dy="5">/km</tspan><tspan font-size="7" dy="-5">2</tspan><tspan dy="5">)</tspan></text>
<text x="517.20" y="382.60" font-size="30" text-anchor="middle" font-weight="700" stroke="#231f20" stroke-width="0.6">a</text>
<rect x="866.70" y="32.20" width="37.00" height="7.70" fill="#4dbde6" shape-rendering="crispEdges"/>
<rect x="903.70" y="32.20" width="37.20" height="7.70" fill="#fe9aa0" shape-rendering="crispEdges"/>
<rect x="940.90" y="32.20" width="37.10" height="7.70" fill="#fe2479" shape-rendering="crispEdges"/>
<rect x="978.00" y="32.20" width="37.00" height="7.70" fill="#b0477f" shape-rendering="crispEdges"/>
<rect x="866.70" y="87.10" width="37.00" height="7.60" fill="#4dbde6" shape-rendering="crispEdges"/>
<rect x="903.70" y="87.10" width="37.20" height="7.60" fill="#fe9aa0" shape-rendering="crispEdges"/>
<rect x="940.90" y="87.10" width="37.10" height="7.60" fill="#fe2479" shape-rendering="crispEdges"/>
<rect x="978.00" y="87.10" width="37.00" height="7.60" fill="#b0477f" shape-rendering="crispEdges"/>
<rect x="866.70" y="87.10" width="148.30" height="7.60" fill="url(#h)"/>
<text x="884.80" y="52.20" font-size="11.5" text-anchor="middle" letter-spacing="0.6" stroke="#231f20" stroke-width="0.18">E/W</text>
<text x="884.80" y="107.00" font-size="11.5" text-anchor="middle" letter-spacing="0.6" stroke="#231f20" stroke-width="0.18">E/W</text>
<text x="922.80" y="52.20" font-size="11.5" text-anchor="middle" letter-spacing="0.6" stroke="#231f20" stroke-width="0.18">S/B</text>
<text x="922.80" y="107.00" font-size="11.5" text-anchor="middle" letter-spacing="0.6" stroke="#231f20" stroke-width="0.18">S/B</text>
<text x="960.10" y="52.20" font-size="11.5" text-anchor="middle" letter-spacing="0.6" stroke="#231f20" stroke-width="0.18">B/C</text>
<text x="960.10" y="107.00" font-size="11.5" text-anchor="middle" letter-spacing="0.6" stroke="#231f20" stroke-width="0.18">B/C</text>
<text x="996.90" y="52.20" font-size="11.5" text-anchor="middle" letter-spacing="0.6" stroke="#231f20" stroke-width="0.18">R/C</text>
<text x="996.90" y="107.00" font-size="11.5" text-anchor="middle" letter-spacing="0.6" stroke="#231f20" stroke-width="0.18">R/C</text>
<text x="867.20" y="70.60" font-size="13" textLength="144.00" lengthAdjust="spacing" stroke="#231f20" stroke-width="0.18">Per unit building damage</text>
<text x="867.20" y="124.60" font-size="13" textLength="128.00" lengthAdjust="spacing" stroke="#231f20" stroke-width="0.18">Per unit monetary loss</text>
<line x1="866.9" y1="145.7" x2="929" y2="145.7" stroke="#231f20" stroke-width="1.3" stroke-dasharray="5.6 3.1 1.1 3.2"/>
<text x="866.70" y="167.00" font-size="13" textLength="43.40" lengthAdjust="spacing" stroke="#231f20" stroke-width="0.18">Overall</text>
<text x="918.80" y="167.00" font-size="13" textLength="41.00" lengthAdjust="spacing" stroke="#231f20" stroke-width="0.18">growth</text>
<text x="968.40" y="167.00" font-size="13" textLength="30.60" lengthAdjust="spacing" stroke="#231f20" stroke-width="0.18">times</text>
<text x="1008.50" y="167.00" font-size="13" letter-spacing="0.6" stroke="#231f20" stroke-width="0.18">of</text>
<text x="867.20" y="181.40" font-size="13" textLength="94.00" lengthAdjust="spacing" stroke="#231f20" stroke-width="0.18">building damage</text>
<line x1="867.2" y1="204.8" x2="929" y2="204.8" stroke="#231f20" stroke-width="1.1" stroke-dasharray="1.2 3.8"/>
<text x="866.70" y="227.30" font-size="13" textLength="44.10" lengthAdjust="spacing" stroke="#231f20" stroke-width="0.18">Growth</text>
<text x="915.80" y="227.30" font-size="13" textLength="32.50" lengthAdjust="spacing" stroke="#231f20" stroke-width="0.18">times</text>
<text x="953.30" y="227.30" font-size="13" letter-spacing="0.6" stroke="#231f20" stroke-width="0.18">of</text>
<text x="971.20" y="227.30" font-size="13" textLength="48.70" lengthAdjust="spacing" stroke="#231f20" stroke-width="0.18">building</text>
<text x="866.70" y="240.30" font-size="13" textLength="44.90" lengthAdjust="spacing" stroke="#231f20" stroke-width="0.18">damage</text>
<text x="914.00" y="240.30" font-size="13" letter-spacing="0.6" stroke="#231f20" stroke-width="0.18">of</text>
<text x="930.20" y="240.30" font-size="13" textLength="33.40" lengthAdjust="spacing" stroke="#231f20" stroke-width="0.18">major</text>
<text x="966.90" y="240.30" font-size="13" textLength="28.30" lengthAdjust="spacing" stroke="#231f20" stroke-width="0.18">level</text>
<text x="998.40" y="240.30" font-size="13" letter-spacing="0.6" stroke="#231f20" stroke-width="0.18">and</text>
<text x="867.20" y="253.00" font-size="13" textLength="47.00" lengthAdjust="spacing" stroke="#231f20" stroke-width="0.18">collapse</text>
<line x1="867.2" y1="274.7" x2="928.7" y2="274.7" stroke="#8a8a8a" stroke-width="1.2"/>
<circle cx="898.7" cy="274.7" r="1.7" fill="#111"/>
<text x="867.20" y="296.80" font-size="13" textLength="150.00" lengthAdjust="spacing" stroke="#231f20" stroke-width="0.18">Growth times of monetary</text>
<text x="867.20" y="310.80" font-size="13" textLength="24.00" lengthAdjust="spacing" stroke="#231f20" stroke-width="0.18">loss</text>
<text x="68.10" y="444.20" font-size="12.8" textLength="119.60" lengthAdjust="spacing" stroke="#231f20" stroke-width="0.18">Zhengzhuangzi town</text>
<text x="35.10" y="480.30" font-size="12.8" textLength="51.20" lengthAdjust="spacing" stroke="#231f20" stroke-width="0.18">Guoyuan</text>
<text x="35.10" y="494.70" font-size="12.8" textLength="51.20" lengthAdjust="spacing" stroke="#231f20" stroke-width="0.18">township</text>
<text x="159.60" y="493.90" font-size="12.8" textLength="77.00" lengthAdjust="spacing" stroke="#231f20" stroke-width="0.18">Kaiping town</text>
<text x="203.70" y="471.30" font-size="12.8" textLength="57.00" lengthAdjust="spacing" stroke="#231f20" stroke-width="0.18">Wali town</text>
<text x="88.25" y="520.90" font-size="13" font-weight="700" textLength="82.60" lengthAdjust="spacing" stroke="#231f20" stroke-width="0.35">Urban Center</text>
<text x="93.25" y="534.50" font-size="13" font-weight="700" textLength="72.80" lengthAdjust="spacing" stroke="#231f20" stroke-width="0.35">of Tangshan</text>
<text x="165.60" y="552.20" font-size="12.8" textLength="33.50" lengthAdjust="spacing" stroke="#231f20" stroke-width="0.18">Yuehe</text>
<text x="167.30" y="566.30" font-size="12.8" textLength="27.80" lengthAdjust="spacing" stroke="#231f20" stroke-width="0.18">town</text>
<text x="97.60" y="565.30" font-size="12.8" textLength="58.00" lengthAdjust="spacing" stroke="#231f20" stroke-width="0.18">Nvzhizhai</text>
<text x="101.40" y="579.60" font-size="12.8" textLength="51.40" lengthAdjust="spacing" stroke="#231f20" stroke-width="0.18">township</text>
<text x="38.25" y="604.80" font-size="12.8" textLength="80.20" lengthAdjust="spacing" stroke="#231f20" stroke-width="0.18">Fengnan town</text>
<text x="0" y="0" font-size="12.8" textLength="45.5" lengthAdjust="spacing" stroke="#231f20" stroke-width="0.25" transform="translate(245.60,427.00) rotate(-34.5)">Xijiatao</text>
<text x="0" y="0" font-size="12.8" textLength="52.5" lengthAdjust="spacing" stroke="#231f20" stroke-width="0.25" transform="translate(252.40,442.70) rotate(-36.9)">township</text>
<text x="0" y="0" font-size="12.8" textLength="76" lengthAdjust="spacing" stroke="#231f20" stroke-width="0.25" transform="translate(270.20,490.40) rotate(-36.1)">Dazhuangtuo</text>
<text x="0" y="0" font-size="12.8" textLength="53" lengthAdjust="spacing" stroke="#231f20" stroke-width="0.25" transform="translate(288.90,496.40) rotate(-36.5)">township</text>
<text x="611.10" y="444.20" font-size="12.8" textLength="119.60" lengthAdjust="spacing" stroke="#231f20" stroke-width="0.18">Zhengzhuangzi town</text>
<text x="578.10" y="480.30" font-size="12.8" textLength="51.20" lengthAdjust="spacing" stroke="#231f20" stroke-width="0.18">Guoyuan</text>
<text x="578.10" y="494.70" font-size="12.8" textLength="51.20" lengthAdjust="spacing" stroke="#231f20" stroke-width="0.18">township</text>
<text x="702.60" y="493.90" font-size="12.8" textLength="77.00" lengthAdjust="spacing" stroke="#231f20" stroke-width="0.18">Kaiping town</text>
<text x="746.70" y="471.30" font-size="12.8" textLength="57.00" lengthAdjust="spacing" stroke="#231f20" stroke-width="0.18">Wali town</text>
<text x="631.25" y="520.90" font-size="13" font-weight="700" textLength="82.60" lengthAdjust="spacing" stroke="#231f20" stroke-width="0.35">Urban Center</text>
<text x="636.25" y="534.50" font-size="13" font-weight="700" textLength="72.80" lengthAdjust="spacing" stroke="#231f20" stroke-width="0.35">of Tangshan</text>
<text x="708.60" y="552.20" font-size="12.8" textLength="33.50" lengthAdjust="spacing" stroke="#231f20" stroke-width="0.18">Yuehe</text>
<text x="710.30" y="566.30" font-size="12.8" textLength="27.80" lengthAdjust="spacing" stroke="#231f20" stroke-width="0.18">town</text>
<text x="640.60" y="565.30" font-size="12.8" textLength="58.00" lengthAdjust="spacing" stroke="#231f20" stroke-width="0.18">Nvzhizhai</text>
<text x="644.40" y="579.60" font-size="12.8" textLength="51.40" lengthAdjust="spacing" stroke="#231f20" stroke-width="0.18">township</text>
<text x="581.25" y="604.80" font-size="12.8" textLength="80.20" lengthAdjust="spacing" stroke="#231f20" stroke-width="0.18">Fengnan town</text>
<text x="0" y="0" font-size="12.8" textLength="45.5" lengthAdjust="spacing" stroke="#231f20" stroke-width="0.25" transform="translate(788.60,427.00) rotate(-34.5)">Xijiatao</text>
<text x="0" y="0" font-size="12.8" textLength="52.5" lengthAdjust="spacing" stroke="#231f20" stroke-width="0.25" transform="translate(795.40,442.70) rotate(-36.9)">township</text>
<text x="0" y="0" font-size="12.8" textLength="76" lengthAdjust="spacing" stroke="#231f20" stroke-width="0.25" transform="translate(813.20,490.40) rotate(-36.1)">Dazhuangtuo</text>
<text x="0" y="0" font-size="12.8" textLength="53" lengthAdjust="spacing" stroke="#231f20" stroke-width="0.25" transform="translate(831.90,496.40) rotate(-36.5)">township</text>
<path d="M99.50 639.2 L99.50 642 L146.80 642 L146.80 639.2 M123.10 642 L123.10 639.5" fill="none" stroke="#3b3735" stroke-width="1.2"/>
<text x="99.50" y="636.30" font-size="12.5" text-anchor="middle" stroke="#231f20" stroke-width="0.18">0</text>
<text x="123.30" y="636.30" font-size="12.5" text-anchor="middle" stroke="#231f20" stroke-width="0.18">3</text>
<text x="146.80" y="636.30" font-size="12.5" text-anchor="middle" stroke="#231f20" stroke-width="0.18">6</text>
<text x="157.10" y="642.90" font-size="12.5" textLength="63.50" lengthAdjust="spacing" stroke="#231f20" stroke-width="0.18">Kilometers</text>
<path d="M634.30 639.2 L634.30 642 L681.60 642 L681.60 639.2 M657.90 642 L657.90 639.5" fill="none" stroke="#3b3735" stroke-width="1.2"/>
<text x="634.30" y="636.30" font-size="12.5" text-anchor="middle" stroke="#231f20" stroke-width="0.18">0</text>
<text x="658.10" y="636.30" font-size="12.5" text-anchor="middle" stroke="#231f20" stroke-width="0.18">3</text>
<text x="681.60" y="636.30" font-size="12.5" text-anchor="middle" stroke="#231f20" stroke-width="0.18">6</text>
<text x="691.90" y="642.90" font-size="12.5" textLength="63.50" lengthAdjust="spacing" stroke="#231f20" stroke-width="0.18">Kilometers</text>
<text x="201.00" y="664.80" font-size="13" font-weight="700" textLength="27.50" lengthAdjust="spacing" stroke="#231f20" stroke-width="0.18">2009</text>
<text x="732.90" y="664.80" font-size="13" font-weight="700" stroke="#231f20" stroke-width="0.18">1976<tspan font-size="8" dy="-5">*</tspan></text>
<text x="249.00" y="697.80" font-size="30" text-anchor="middle" font-weight="700" stroke="#231f20" stroke-width="0.6">b</text>
<text x="790.20" y="697.80" font-size="30" text-anchor="middle" font-weight="700" stroke="#231f20" stroke-width="0.6">c</text>
<text x="353.40" y="417.70" font-size="12.5" textLength="100.50" lengthAdjust="spacing" stroke="#231f20" stroke-width="0.18">Per unit monetary</text>
<text x="353.40" y="434.10" font-size="12.5" letter-spacing="0.6" stroke="#231f20" stroke-width="0.18">loss&#160; (×10<tspan font-size="7" dy="-5">6</tspan><tspan dy="5"> USD/km</tspan><tspan font-size="7" dy="-5">2</tspan><tspan dy="5">)</tspan></text>
<circle cx="366.4" cy="447.1" r="3.7" fill="#a7d232"/>
<text x="385.70" y="449.60" font-size="8.5" fill="#333" letter-spacing="0.6" stroke="#333" stroke-width="0.18">2.0-3.0</text>
<circle cx="366.4" cy="457.4" r="5.4" fill="#a7d232"/>
<text x="385.70" y="460.50" font-size="8.5" fill="#333" letter-spacing="0.6" stroke="#333" stroke-width="0.18">3.0-6.0</text>
<circle cx="366.4" cy="471.2" r="6.6" fill="#a7d232"/>
<text x="385.70" y="473.90" font-size="8.5" fill="#333" letter-spacing="0.6" stroke="#333" stroke-width="0.18">6.0-9.0</text>
<circle cx="366.4" cy="488.1" r="7.8" fill="#a7d232"/>
<text x="385.70" y="490.80" font-size="8.5" fill="#333" letter-spacing="0.6" stroke="#333" stroke-width="0.18">9.0-12.0</text>
<circle cx="366.4" cy="508.7" r="9.9" fill="#a7d232"/>
<text x="385.70" y="511.40" font-size="8.5" fill="#333" letter-spacing="0.6" stroke="#333" stroke-width="0.18">12.0-21.0</text>
<circle cx="366.4" cy="532.0" r="12.4" fill="#a7d232"/>
<text x="385.70" y="535.00" font-size="8.5" fill="#333" letter-spacing="0.6" stroke="#333" stroke-width="0.18">21.0-75.5</text>
<text x="360.90" y="563.50" font-size="12.5" textLength="96.00" lengthAdjust="spacing" stroke="#231f20" stroke-width="0.18">Per unit building</text>
<text x="360.90" y="578.20" font-size="12.5" letter-spacing="0.5" stroke="#231f20" stroke-width="0.18">damage (m<tspan font-size="7" dy="-5">2</tspan><tspan dy="5">/km</tspan><tspan font-size="7" dy="-5">2</tspan><tspan dy="5">)</tspan></text>
<rect x="360.9" y="589.7" width="14.5" height="8" fill="#f1ea1e"/>
<text x="380.20" y="597.20" font-size="12" textLength="83.00" lengthAdjust="spacing" stroke="#231f20" stroke-width="0.18">50000-100000</text>
<rect x="360.9" y="603.2" width="14.5" height="8" fill="#f98282"/>
<text x="380.20" y="611.20" font-size="12" textLength="90.00" lengthAdjust="spacing" stroke="#231f20" stroke-width="0.18">100000-150000</text>
<rect x="360.9" y="617.5" width="14.5" height="8" fill="#f42e2a"/>
<text x="380.20" y="625.50" font-size="12" textLength="90.00" lengthAdjust="spacing" stroke="#231f20" stroke-width="0.18">150000-200000</text>
<rect x="360.9" y="631.4" width="14.5" height="8" fill="#2c3189"/>
<text x="380.20" y="639.40" font-size="12" textLength="90.00" lengthAdjust="spacing" stroke="#231f20" stroke-width="0.18">200000-550000</text>
<text x="893.30" y="503.00" font-size="12.5" textLength="100.50" lengthAdjust="spacing" stroke="#231f20" stroke-width="0.18">Per unit monetary</text>
<text x="893.30" y="519.60" font-size="12.5" letter-spacing="0.6" stroke="#231f20" stroke-width="0.18">loss&#160; (×10<tspan font-size="7" dy="-5">6</tspan><tspan dy="5"> USD/km</tspan><tspan font-size="7" dy="-5">2</tspan><tspan dy="5">)</tspan></text>
<circle cx="900.5" cy="532.9" r="2.6" fill="#a7d232"/>
<circle cx="900.5" cy="546.5" r="3.6" fill="#a7d232"/>
<text x="912.00" y="536.80" font-size="12" textLength="42.00" lengthAdjust="spacing" stroke="#231f20" stroke-width="0.18">0.0-2.0</text>
<text x="912.00" y="550.30" font-size="12" textLength="42.00" lengthAdjust="spacing" stroke="#231f20" stroke-width="0.18">2.0-3.0</text>
<text x="893.30" y="578.00" font-size="12.5" textLength="96.00" lengthAdjust="spacing" stroke="#231f20" stroke-width="0.18">Per unit building</text>
<text x="893.30" y="592.50" font-size="12.5" letter-spacing="0.5" stroke="#231f20" stroke-width="0.18">damage (m<tspan font-size="7" dy="-5">2</tspan><tspan dy="5">/km</tspan><tspan font-size="7" dy="-5">2</tspan><tspan dy="5">)</tspan></text>
<rect x="893.3" y="604.0" width="13" height="7.7" fill="#f6f2bd" stroke="#ccc" stroke-width="0"/>
<text x="912.00" y="611.00" font-size="12" textLength="41.50" lengthAdjust="spacing" stroke="#231f20" stroke-width="0.18">0-50000</text>
<rect x="893.3" y="618.0" width="13" height="7.7" fill="#ffffff" stroke="#ccc" stroke-width="0.5"/>
<text x="912.00" y="625.00" font-size="12" textLength="83.00" lengthAdjust="spacing" stroke="#231f20" stroke-width="0.18">50000-100000</text>
<rect x="893.3" y="632.2" width="13" height="7.7" fill="#f98282" stroke="#ccc" stroke-width="0"/>
<text x="912.00" y="639.10" font-size="12" textLength="90.00" lengthAdjust="spacing" stroke="#231f20" stroke-width="0.18">100000-150000</text>
</g>
</svg>
</body></html>
